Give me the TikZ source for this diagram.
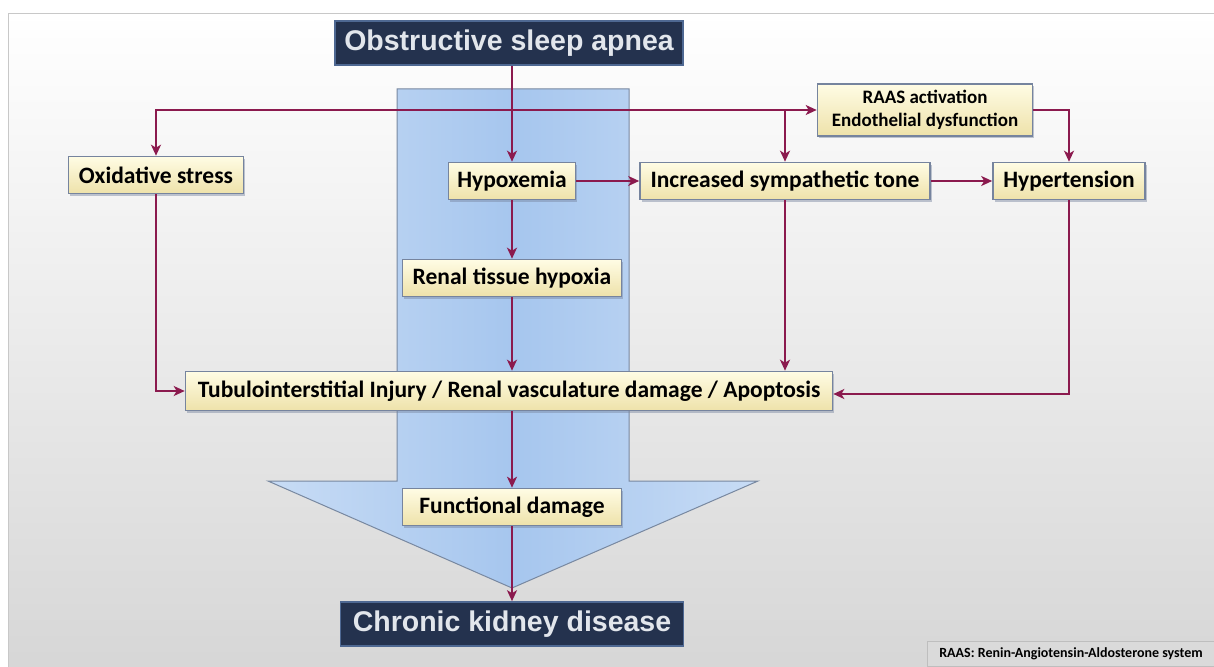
\documentclass[tikz,border=0pt]{standalone}
\usepackage{fontspec}
\setmainfont{Carlito}
\newfontfamily\headfont{Liberation Sans}
\usepackage{tikz}
\usetikzlibrary{arrows.meta}
\usetikzlibrary{shadows}

\definecolor{arrowred}{RGB}{139,26,78}
\definecolor{boxtop}{RGB}{255,252,228}
\definecolor{boxbot}{RGB}{238,226,170}
\definecolor{boxline}{RGB}{118,132,158}
\definecolor{navy}{RGB}{36,50,78}
\definecolor{navyline}{RGB}{78,104,146}
\definecolor{headtext}{RGB}{226,230,236}
\definecolor{bandedge}{RGB}{200,220,245}
\definecolor{bandmid}{RGB}{166,198,238}
\definecolor{bandline}{RGB}{120,136,160}

\tikzset{
    causebox/.style={draw=boxline, line width=1.6pt, top color=boxtop, bottom color=boxbot,
        drop shadow={shadow xshift=1.5pt, shadow yshift=-2pt, opacity=0.45, fill=boxline},
        font=\bfseries\fontsize{23.5}{26}\selectfont, inner sep=0pt, minimum height=37pt},
    headbox/.style={draw=navyline, line width=1.6pt, fill=navy, text=headtext,
        font=\headfont\bfseries\fontsize{28.5}{32}\selectfont, inner sep=0pt, minimum height=44pt},
    arr/.style={draw=arrowred, line width=2.2pt, -{Stealth[length=11pt,width=10pt,inset=3pt]}}
}

\begin{document}
\begin{tikzpicture}[x=1pt, y=-1pt]
                \useasboundingbox (0,0) rectangle (1214,666);
                % Slide background
                \fill[white] (0,0) rectangle (1214,666);
                \shade[top color=white, middle color={rgb,255:red,247;green,247;blue,247},
                    bottom color={rgb,255:red,214;green,214;blue,214}, draw={rgb,255:red,200;green,200;blue,200}]
                    (8,13) rectangle (1222,676);

                % Big blue arrow behind the main chain
                \shade[left color=bandedge, right color=bandedge, middle color=bandmid, draw=bandline, line width=1pt]
                    (397,89) -- (629,89) -- (629,481) -- (758,481) -- (512,588) -- (268,481) -- (397,481) -- cycle;

                % Nodes
                \node[headbox, minimum width=348pt] (osa) at (509,43) {Obstructive sleep apnea};
                \node[causebox, minimum width=175pt] (oxid) at (156,175) {Oxidative stress};
                \node[causebox, minimum width=127pt] (hypox) at (512,181) {Hypoxemia};
                \node[causebox, minimum width=290pt] (sympa) at (785,181) {Increased sympathetic tone};
                \node[causebox, minimum width=152pt] (hyper) at (1069,181) {Hypertension};
                \node[causebox, minimum width=215pt, minimum height=52pt, align=center,
                    font=\bfseries\fontsize{19}{23}\selectfont] (raas) at (925,110)
                    {RAAS activation\\Endothelial dysfunction};
                \node[causebox, minimum width=219pt] (renal) at (512,278) {Renal tissue hypoxia};
                \node[causebox, minimum width=647pt, minimum height=39pt] (tubulo) at (509,391)
                    {Tubulointerstitial Injury / Renal vasculature damage / Apoptosis};
                \node[causebox, minimum width=219pt] (func) at (512,507) {Functional damage};
                \node[headbox, minimum width=343pt] (ckd) at (512,624) {Chronic kidney disease};
                \node[draw={rgb,255:red,190;green,190;blue,190}, fill={rgb,255:red,218;green,218;blue,218},
                    font=\bfseries\fontsize{14}{16}\selectfont, inner sep=0pt, minimum width=287pt,
                    minimum height=25pt] (note) at (1071,654) {RAAS: Renin-Angiotensin-Aldosterone system};

                % Junction on the top line
                \coordinate (jn) at (hypox |- raas.west);

                % Connectors
                \draw[arr] (osa.south -| hypox) -- (hypox.north);
                \draw[arr] (jn) -| (oxid.north);
                \draw[arr] (jn) -- (raas.west);
                \draw[arr] (sympa |- raas.west) -- (sympa.north);
                \draw[arr] (raas.east) -| (hyper.north);
                \draw[arr] (hypox.east) -- (sympa.west);
                \draw[arr] (sympa.east) -- (hyper.west);
                \draw[arr] (hypox.south) -- (renal.north);
                \draw[arr] (renal.south) -- (renal.south |- tubulo.north);
                \draw[arr] (oxid.south) |- (tubulo.west);
                \draw[arr] (sympa.south) -- (sympa.south |- tubulo.north);
                \draw[arr] (hyper.south) |- ([yshift=-3pt]tubulo.east);
                \draw[arr] (tubulo.south -| func) -- (func.north);
                \draw[arr] (func.south) -- (ckd.north);
            \end{tikzpicture}
\end{document}
